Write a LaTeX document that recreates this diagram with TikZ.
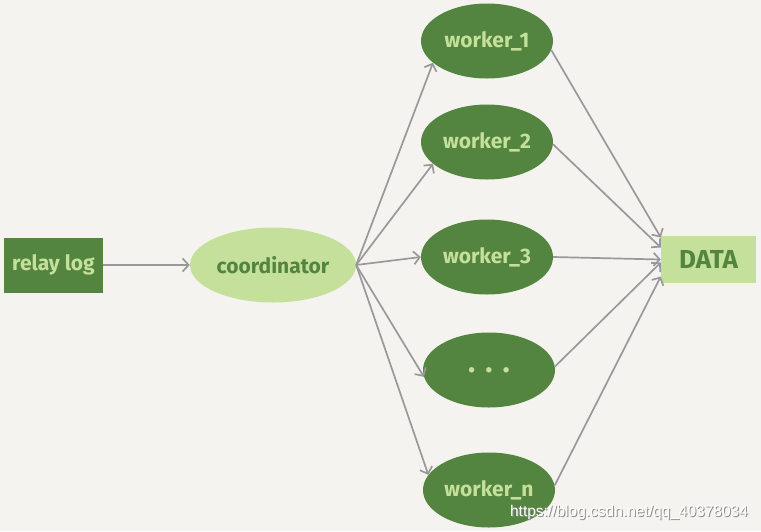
\documentclass[tikz,border=0pt]{standalone}
\usepackage{fontspec}
\setmainfont{Fira Sans}
\newfontfamily\wmfont{Liberation Sans}
\usetikzlibrary{shapes.geometric,arrows.meta}
\definecolor{bg}{HTML}{F4F3EF}
\definecolor{dkg}{HTML}{548540}
\definecolor{ltg}{HTML}{C4E09A}
\definecolor{edgec}{HTML}{999999}
\begin{document}
\begin{tikzpicture}[x=1pt,y=-1pt,
  wk/.style={ellipse, fill=dkg, minimum width=132pt, minimum height=75pt, inner sep=0pt, text=ltg, font=\fontsize{21}{22}\selectfont\bfseries},
  conn/.style={draw=edgec, line width=1.7pt, -{Straight Barb[length=6pt,width=13pt]}},
  wmstyle/.style={font=\wmfont\fontsize{15.5}{16}\selectfont, inner sep=0pt}]
\fill[bg] (0,0) rectangle (761,531);
\useasboundingbox (0,0) rectangle (761,531);
\node[rectangle, fill=dkg, minimum width=99pt, minimum height=55pt, inner sep=0pt, text=ltg, font=\fontsize{21}{22}\selectfont\bfseries] (relay) at (53.5,265) {relay log};
\node[ellipse, fill=ltg, minimum width=166pt, minimum height=75pt, inner sep=0pt, text=dkg, font=\fontsize{21}{22}\selectfont\bfseries] (coord) at (273,265) {coordinator};
\node[wk] (w1) at (487,41) {worker\_1};
\node[wk] (w2) at (487,142) {worker\_2};
\node[wk] (w3) at (487,257) {worker\_3};
\node[wk, font=\fontsize{30}{30}\selectfont\bfseries] (wd) at (489,370) {.\,\,.\,\,.};
\node[wk] (wn) at (489,490) {worker\_n};
\node[rectangle, fill=ltg, minimum width=95pt, minimum height=47pt, inner sep=0pt, text=dkg, font=\fontsize{26}{28}\selectfont\bfseries] (data) at (708.5,259.5) {DATA};
\draw[conn] (relay.east) -- (coord.west);
\draw[conn] (coord.east) -- (w1.202);
\draw[conn] (coord.east) -- (w2.202);
\draw[conn] (coord.east) -- (w3.west);
\draw[conn] (coord.east) -- (wd.186);
\draw[conn] (coord.east) -- (wn.166);
\draw[conn] (w1.-8) -- ([yshift=22pt]data.west);
\draw[conn] (w2.-2) -- ([yshift=12pt]data.west);
\draw[conn] (w3.east) -- ([yshift=0pt]data.west);
\draw[conn] (wd.3) -- ([yshift=-3pt]data.west);
\draw[conn] (wn.4) -- ([yshift=-17pt]data.west);
\node[wmstyle, text=black!45] (wmshadow) at (630,513) {https://blog.csdn.net/qq\_40378034};
\node[wmstyle, text=white] (wm) at (629,512) {https://blog.csdn.net/qq\_40378034};
\end{tikzpicture}
\end{document}
